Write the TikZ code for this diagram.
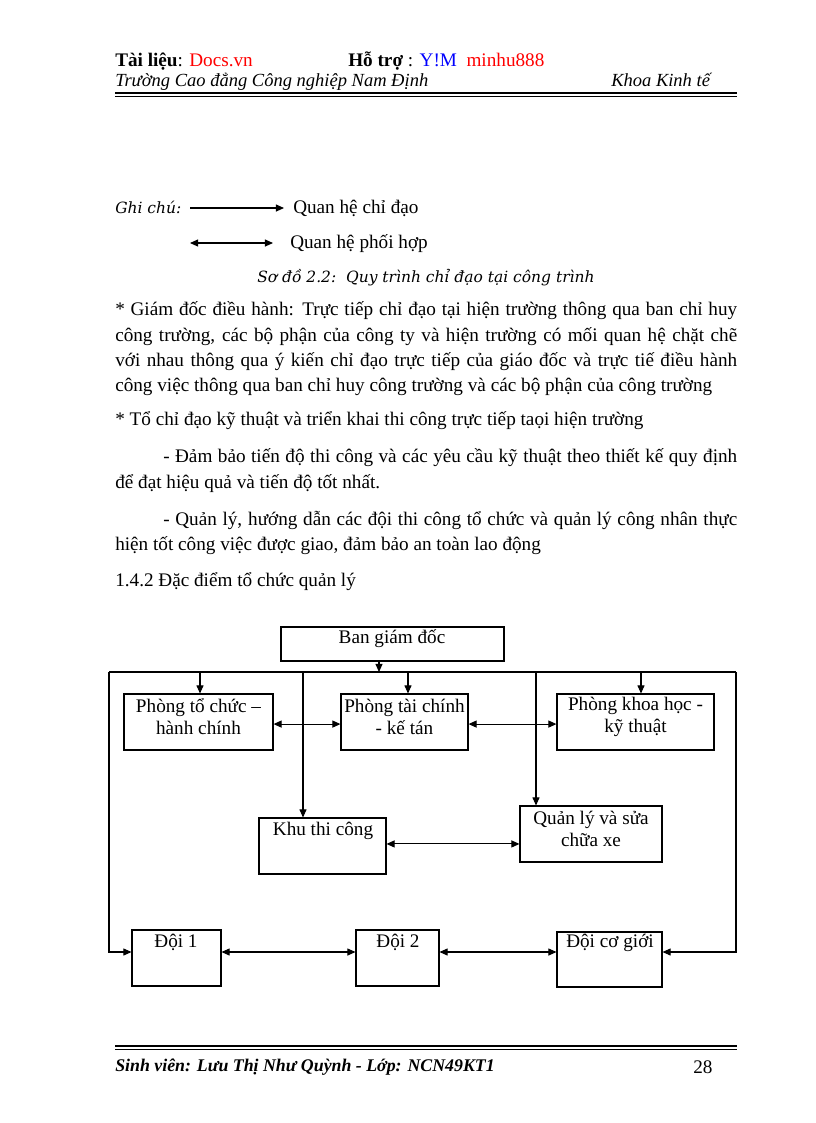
\documentclass[tikz,border=0pt]{standalone}
\usepackage{fontspec}
\setmainfont{Liberation Serif}
\newfontfamily\capfont{DejaVu Serif}
\usetikzlibrary{arrows.meta,fit}
\definecolor{hred}{RGB}{255,0,0}
\definecolor{hblue}{RGB}{0,0,255}
\begin{document}
\begin{tikzpicture}[x=0.7295pt,y=-0.7295pt,
  box/.style={draw,line width=0.75pt,inner sep=0pt},
  lbl/.style={inner sep=0pt,font=\fontsize{14}{16}\selectfont,align=center},
  txt/.style={inner sep=0pt,anchor=base west,font=\fontsize{14}{16}\selectfont},
  captxt/.style={inner sep=0pt,anchor=base west,font=\capfont\itshape\fontsize{11.3}{13}\selectfont},
  arr/.style={line width=0.75pt,-{Triangle[length=6pt,width=5.2pt]}},
  darr/.style={line width=0.75pt,{Triangle[length=6pt,width=5.2pt]}-{Triangle[length=6pt,width=5.2pt]}},
  ln/.style={line width=0.75pt}]
\path[use as bounding box,fill=white] (0,0) rectangle (816,1123);

% header
\node[txt] (h1) at (115,66) {\textbf{Tài liệu}: \textcolor{hred}{Docs.vn}};
\node[txt] (h2) at (348,66) {\textbf{Hỗ trợ} : \textcolor{hblue}{Y!M}\ \ \textcolor{hred}{minhu888}};
\node[txt,font=\fontsize{13.5}{16}\selectfont] (h3) at (115,86) {\itshape Trường Cao đẳng Công nghiệp Nam Định};
\node[txt,font=\fontsize{13.5}{16}\selectfont] (h4) at (611,86) {\itshape Khoa Kinh tế};
\coordinate (hrA) at (115,93);
\coordinate (hrB) at (737,93);
\draw[line width=1.6pt] (hrA) -- (hrB);
\draw[line width=0.6pt] ([yshift=-2.6pt]hrA) -- ([yshift=-2.6pt]hrB);

% legend
\node[captxt] (gc) at (115,213) {Ghi chú:};
\coordinate (lg1a) at (190,208);
\coordinate (lg1b) at (284,208);
\draw[arr] (lg1a) -- (lg1b);
\node[txt] (lgt1) at (293,213) {Quan hệ chỉ đạo};
\coordinate (lg2a) at (190,243);
\coordinate (lg2b) at (273,243);
\draw[darr] (lg2a) -- (lg2b);
\node[txt] (lgt2) at (290,248) {Quan hệ phối hợp};
\node[captxt] (capt) at (257,282) {Sơ đồ 2.2:\ \ Quy trình chỉ đạo tại công trình};

% body text
\node[txt] (p1a) at (115,315) {\makebox[453.7pt][s]{* Giám đốc điều hành: Trực tiếp chỉ đạo tại hiện trường thông qua ban chỉ huy}};
\node[txt] (p1b) at (115,341) {\makebox[453.7pt][s]{công trường, các bộ phận của công ty và hiện trường có mối quan hệ chặt chẽ}};
\node[txt] (p1c) at (115,366) {\makebox[453.7pt][s]{với nhau thông qua ý kiến chỉ đạo trực tiếp của giáo đốc và trực tiế điều hành}};
\node[txt] (p1d) at (115,391) {công việc thông qua ban chỉ huy công trường và các bộ phận của công trường};
\node[txt] (p2) at (115,425) {* Tổ chỉ đạo kỹ thuật và triển khai thi công trực tiếp taọi hiện trường};
\node[txt] (p3a) at (163,462) {\makebox[418.7pt][s]{- Đảm bảo tiến độ thi công và các yêu cầu kỹ thuật theo thiết kế quy định}};
\node[txt] (p3b) at (115,488) {để đạt hiệu quả và tiến độ tốt nhất.};
\node[txt] (p4a) at (163,525) {\makebox[418.7pt][s]{- Quản lý, hướng dẫn các đội thi công tổ chức và quản lý công nhân thực}};
\node[txt] (p4b) at (115,550) {hiện tốt công việc được giao, đảm bảo an toàn lao động};
\node[txt] (p5) at (115,586) {1.4.2 Đặc điểm tổ chức quản lý};

% diagram boxes
\node[box,fit={(281,627)(504,661)}] (ban) {};
\node[lbl] (banT) at (392,639) {Ban giám đốc};
\node[box,fit={(124,694)(273,750)}] (ptc) {};
\node[lbl] (ptcT) at (198.5,717) {Phòng tổ chức –\\hành chính};
\node[box,fit={(341,694)(468,750)}] (tc) {};
\node[lbl] (tcT) at (404.5,717) {Phòng tài chính\\- kế tán};
\node[box,fit={(557,694)(714,750)}] (kh) {};
\node[lbl] (khT) at (635.5,717) {Phòng khoa học -\\kỹ thuật};
\node[box,fit={(259,818)(386,874)}] (khu) {};
\node[lbl] (khuT) at (323,831) {Khu thi công};
\node[box,fit={(520,806)(662,862)}] (ql) {};
\node[lbl] (qlT) at (591,829) {Quản lý và sửa\\chữa xe};
\node[box,fit={(132,930)(221,986)}] (d1) {};
\node[lbl] (d1T) at (176,942) {Đội 1};
\node[box,fit={(356,930)(439,986)}] (d2) {};
\node[lbl] (d2T) at (398,942) {Đội 2};
\node[box,fit={(557,932)(662,987)}] (dcg) {};
\node[lbl] (dcgT) at (610,943) {Đội cơ giới};

% bus
\coordinate (busL) at (109,672);
\coordinate (busR) at (736,672);
\coordinate (bA) at (379,672);
\coordinate (bP1) at (200,672);
\coordinate (bP2) at (408,672);
\coordinate (bP3) at (641,672);
\coordinate (v1) at (303,672);
\coordinate (v2) at (536,672);
\coordinate (lowL) at (109,952);
\coordinate (lowR) at (736,952);
\draw[ln] (busL) -- (busR);
\draw[arr] (ban.south -| bA) -- (bA);
\draw[arr] (bP1) -- (bP1 |- ptc.north);
\draw[arr] (bP2) -- (bP2 |- tc.north);
\draw[arr] (bP3) -- (bP3 |- kh.north);
\draw[arr] (v1) -- (v1 |- khu.north);
\draw[arr] (v2) -- (v2 |- ql.north);
\draw[arr] (busL) -- (lowL) -- (lowL -| d1.west);
\draw[arr] (busR) -- (lowR) -- (lowR -| dcg.east);

% coordination arrows
\draw[darr] ([yshift=-1.5pt]ptc.east) -- ([yshift=-1.5pt]tc.west);
\draw[darr] ([yshift=-1.5pt]tc.east) -- ([yshift=-1.5pt]kh.west);
\draw[darr] ([yshift=1.5pt]khu.east) -- ([yshift=1.5pt]khu.east -| ql.west);
\draw[darr] (lowL -| d1.east) -- (lowL -| d2.west);
\draw[darr] (lowL -| d2.east) -- (lowL -| dcg.west);

% footer
\coordinate (frA) at (115,1046);
\coordinate (frB) at (737,1046);
\draw[line width=1.6pt] (frA) -- (frB);
\draw[line width=0.6pt] ([yshift=-2.6pt]frA) -- ([yshift=-2.6pt]frB);
\node[txt,font=\fontsize{13}{16}\selectfont] (ft) at (115,1071) {\bfseries\itshape Sinh viên: Lưu Thị Như Quỳnh - Lớp: NCN49KT1};
\node[txt] (pg) at (693,1073) {28};
\end{tikzpicture}
\end{document}
